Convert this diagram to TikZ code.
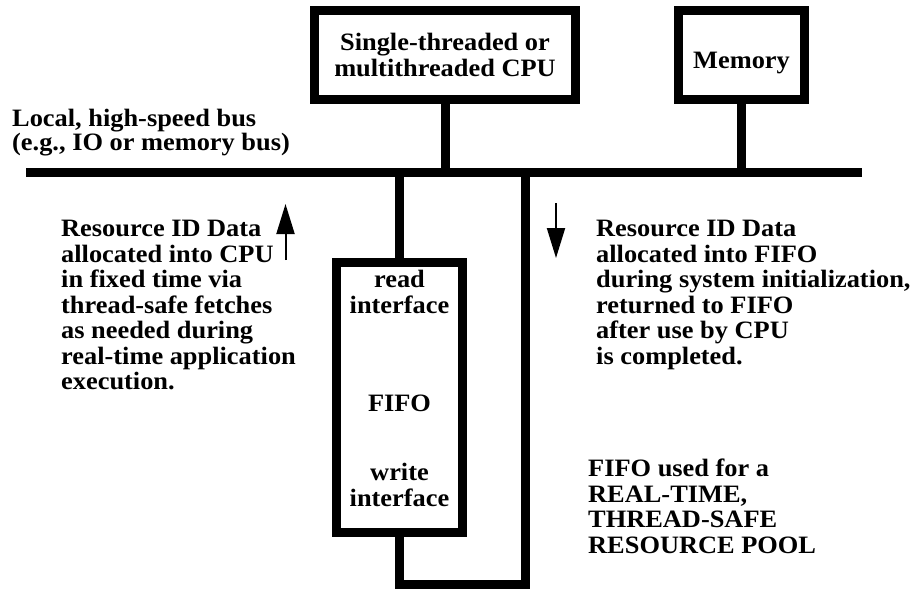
\documentclass[tikz,border=0pt]{standalone}
\usepackage{fontspec}
\setmainfont{Liberation Serif}[FakeStretch=1.055]
\usetikzlibrary{arrows.meta}

\begin{document}
\begin{tikzpicture}[x=1pt,y=-1pt,
        every node/.style={font=\fontsize{25}{25.5}\selectfont\bfseries, inner sep=0pt},
        blk/.style={draw, line width=9pt, minimum width=#1},
        wire/.style={line width=9pt},
        flow/.style={line width=2pt, -{Triangle[length=30pt,width=18pt]}}]
        \useasboundingbox (0,0) rectangle (913,589);

        % Шина
        \coordinate (busW) at (26,172.5);
        \coordinate (busE) at (862,172.5);
        \draw[line width=9.5pt] (busW) -- (busE);
        \node[anchor=north west, align=left, font=\fontsize{25}{21.5}\selectfont\bfseries] (buslbl) at (12,109) {Local, high-speed bus\\(e.g., IO or memory bus)};

        % Блоки
        \node[blk=261pt, minimum height=89pt, align=center] (cpu) at (445,55) {Single-threaded or\\multithreaded CPU};
        \node[blk=126pt, minimum height=89pt] (mem) at (741.5,55) {};
        \node[anchor=base] (memtxt) at (741.5,68) {Memory};
        \node[blk=126pt, minimum height=270pt] (fifo) at (399.5,397.5) {};

        % Подписи FIFO
        \node[anchor=north, align=center] (rdif) at (399.5,270) {read\\interface};
        \node[anchor=base] (fifotxt) at (399.5,411) {FIFO};
        \node[anchor=north, align=center] (wrif) at (399.5,463.3) {write\\interface};

        % Соединения
        \draw[wire] (cpu.south) -- (cpu.south |- busW);
        \draw[wire] (mem.south) -- (mem.south |- busW);
        \draw[wire] (fifo.north) -- (fifo.north |- busW);
        \coordinate (loopR) at (525.5,584);
        \draw[wire] (fifo.south) |- (loopR) -- (loopR |- busW);

        % Стрелки
        \coordinate (upS) at (285.5,260);
        \coordinate (upE) at (285.5,204);
        \draw[flow] (upS) -- (upE);
        \coordinate (dnS) at (556,203);
        \coordinate (dnE) at (556,258);
        \draw[flow] (dnS) -- (dnE);

        % Текст
        \node[anchor=north west, align=left] (cputxt) at (61,220) {Resource ID Data\\allocated into CPU\\in fixed time via\\thread-safe fetches\\as needed during\\real-time application\\execution.};
        \node[anchor=north west, align=left] (fifodesc) at (596,220) {Resource ID Data\\allocated into FIFO\\during system initialization,\\returned to FIFO\\after use by CPU\\is completed.};
        \node[anchor=north west, align=left] (pooltxt) at (588,459) {FIFO used for a\\REAL-TIME,\\THREAD-SAFE\\RESOURCE POOL};
\end{tikzpicture}
\end{document}
